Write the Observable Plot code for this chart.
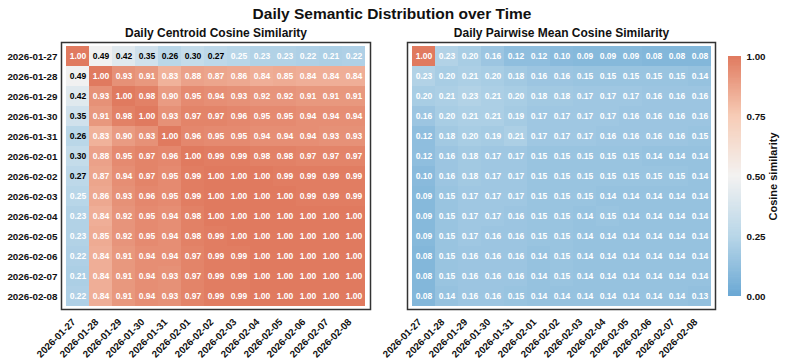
<!DOCTYPE html>
<html>
<head>
<meta charset="utf-8">
<script src="https://cdn.jsdelivr.net/npm/d3@7"></script>
<script src="https://cdn.jsdelivr.net/npm/@observablehq/plot@0.6"></script>
<style>
  html, body { margin: 0; padding: 0; background: #fff; }
  #wrap { position: relative; width: 785px; height: 362px; overflow: hidden; background: #fff; font-family: 'Liberation Sans', Arial, sans-serif; }
  #wrap > svg, #wrap > div { position: absolute; }
</style>
</head>
<body>
<div id="wrap"></div>
<script>
const dates = ["2026-01-27","2026-01-28","2026-01-29","2026-01-30","2026-01-31","2026-02-01","2026-02-02","2026-02-03","2026-02-04","2026-02-05","2026-02-06","2026-02-07","2026-02-08"];

const centroid = [
  [1.00,0.49,0.42,0.35,0.26,0.30,0.27,0.25,0.23,0.23,0.22,0.21,0.22],
  [0.49,1.00,0.93,0.91,0.83,0.88,0.87,0.86,0.84,0.85,0.84,0.84,0.84],
  [0.42,0.93,1.00,0.98,0.90,0.95,0.94,0.93,0.92,0.92,0.91,0.91,0.91],
  [0.35,0.91,0.98,1.00,0.93,0.97,0.97,0.96,0.95,0.95,0.94,0.94,0.94],
  [0.26,0.83,0.90,0.93,1.00,0.96,0.95,0.95,0.94,0.94,0.94,0.93,0.93],
  [0.30,0.88,0.95,0.97,0.96,1.00,0.99,0.99,0.98,0.98,0.97,0.97,0.97],
  [0.27,0.87,0.94,0.97,0.95,0.99,1.00,1.00,1.00,0.99,0.99,0.99,0.99],
  [0.25,0.86,0.93,0.96,0.95,0.99,1.00,1.00,1.00,1.00,0.99,0.99,0.99],
  [0.23,0.84,0.92,0.95,0.94,0.98,1.00,1.00,1.00,1.00,1.00,1.00,1.00],
  [0.23,0.85,0.92,0.95,0.94,0.98,0.99,1.00,1.00,1.00,1.00,1.00,1.00],
  [0.22,0.84,0.91,0.94,0.94,0.97,0.99,0.99,1.00,1.00,1.00,1.00,1.00],
  [0.21,0.84,0.91,0.94,0.93,0.97,0.99,0.99,1.00,1.00,1.00,1.00,1.00],
  [0.22,0.84,0.91,0.94,0.93,0.97,0.99,0.99,1.00,1.00,1.00,1.00,1.00]
];

const pairwise = [
  [1.00,0.23,0.20,0.16,0.12,0.12,0.10,0.09,0.09,0.09,0.08,0.08,0.08],
  [0.23,0.20,0.21,0.20,0.18,0.16,0.16,0.15,0.15,0.15,0.15,0.15,0.14],
  [0.20,0.21,0.23,0.21,0.20,0.18,0.18,0.17,0.17,0.17,0.16,0.16,0.16],
  [0.16,0.20,0.21,0.21,0.19,0.17,0.17,0.17,0.17,0.16,0.16,0.16,0.16],
  [0.12,0.18,0.20,0.19,0.21,0.17,0.17,0.17,0.16,0.16,0.16,0.16,0.15],
  [0.12,0.16,0.18,0.17,0.17,0.15,0.15,0.15,0.15,0.15,0.14,0.14,0.14],
  [0.10,0.16,0.18,0.17,0.17,0.15,0.15,0.15,0.15,0.15,0.15,0.15,0.14],
  [0.09,0.15,0.17,0.17,0.17,0.15,0.15,0.15,0.14,0.14,0.14,0.14,0.14],
  [0.09,0.15,0.17,0.17,0.16,0.15,0.15,0.14,0.15,0.14,0.14,0.14,0.14],
  [0.09,0.15,0.17,0.16,0.16,0.15,0.15,0.14,0.14,0.14,0.14,0.14,0.14],
  [0.08,0.15,0.16,0.16,0.16,0.14,0.15,0.14,0.14,0.14,0.14,0.14,0.14],
  [0.08,0.15,0.16,0.16,0.16,0.14,0.15,0.14,0.14,0.14,0.14,0.14,0.14],
  [0.08,0.14,0.16,0.16,0.15,0.14,0.14,0.14,0.14,0.14,0.14,0.14,0.13]
];

const mainTitle = "Daily Semantic Distribution over Time";
const leftTitle = "Daily Centroid Cosine Similarity";
const rightTitle = "Daily Pairwise Mean Cosine Similarity";
const colorbarLabel = "Cosine similarity";
const colorbarTicks = [0, 0.25, 0.5, 0.75, 1];

const colorOpts = {
  type: "linear",
  domain: [0, 0.25, 0.5, 0.75, 1],
  range: ["#6aa8d4", "#b8d6e8", "#f3f2f1", "#f7ccb6", "#e07a5f"]
};

const FONT = "'Liberation Sans', Arial, sans-serif";

function toCells(m) {
  return dates.flatMap((r, i) => dates.map((c, j) => ({row: r, col: c, v: m[i][j]})));
}
const isDarkText = d => d.v > 0.255 && d.v < 0.75;

function heatmap(m, title, showY, width, marginLeft) {
  const cells = toCells(m);
  return Plot.plot({
    width, height: 362,
    marginLeft, marginRight: 10, marginTop: 42, marginBottom: 53,
    style: {fontFamily: FONT, fontSize: "9.8px", fontWeight: "bold", background: "transparent", color: "#111", overflow: "visible"},
    x: {domain: dates, padding: 0},
    y: {domain: dates, padding: 0},
    color: colorOpts,
    marks: [
      Plot.cell(cells, {x: "col", y: "row", fill: "v", inset: 0}),
      Plot.text(cells.filter(d => !isDarkText(d)), {x: "col", y: "row", text: d => d.v.toFixed(2), fill: "white", fontSize: 8.5, fontWeight: "bold"}),
      Plot.text(cells.filter(isDarkText), {x: "col", y: "row", text: d => d.v.toFixed(2), fill: "black", fontSize: 8.5, fontWeight: "bold"}),
      Plot.frame({stroke: "#333", strokeWidth: 1.5}),
      Plot.axisX({anchor: "bottom", tickRotate: -45, tickSize: 0, tickPadding: 11, dx: -4, label: null, fontSize: 9.8}),
      showY ? Plot.axisY({anchor: "left", tickSize: 0, tickPadding: 4, label: null, fontSize: 9.8}) : Plot.axisY({ticks: [], label: null, tickSize: 0}),
      Plot.text([title], {frameAnchor: "top", dy: -6, lineAnchor: "bottom", fontSize: 12, fontWeight: "bold", fill: "#111"})
    ]
  });
}

const wrap = document.getElementById("wrap");

const p1 = heatmap(centroid, leftTitle, true, 380, 61);
p1.style.left = "0px"; p1.style.top = "0px";
wrap.appendChild(p1);

const p2 = heatmap(pairwise, rightTitle, false, 330, 12);
p2.style.left = "395px"; p2.style.top = "0px";
wrap.appendChild(p2);

// colorbar
const step = 0.005;
const ramp = d3.range(0, 1, step);
const cb = Plot.plot({
  width: 85, height: 362,
  marginTop: 56, marginBottom: 66, marginLeft: 28, marginRight: 44,
  style: {fontFamily: FONT, fontSize: "9.8px", fontWeight: "bold", background: "transparent", color: "#111", overflow: "visible"},
  y: {domain: [0, 1]},
  color: colorOpts,
  marks: [
    Plot.rect(ramp, {y1: d => d, y2: d => Math.min(1, d + step * 1.6), fill: d => d + step / 2}),
    Plot.axisY(colorbarTicks, {anchor: "right", tickSize: 0, tickPadding: 5, tickFormat: d3.format(".2f"), label: null, fontSize: 9.8}),
    Plot.text([colorbarLabel], {frameAnchor: "right", dx: 32, rotate: -90, textAnchor: "middle", lineAnchor: "middle", fontSize: 11, fontWeight: "bold", fill: "#111"})
  ]
});
cb.style.left = "700px"; cb.style.top = "0px";
wrap.appendChild(cb);

// main title
const t = d3.create("svg").attr("width", 785).attr("height", 30).style("left", "0px").style("top", "0px");
t.append("text").attr("x", 392).attr("y", 18.5).attr("text-anchor", "middle")
  .attr("font-family", FONT).attr("font-size", 15.5).attr("font-weight", "bold").attr("fill", "#111")
  .text(mainTitle);
wrap.appendChild(t.node());
</script>
</body>
</html>
